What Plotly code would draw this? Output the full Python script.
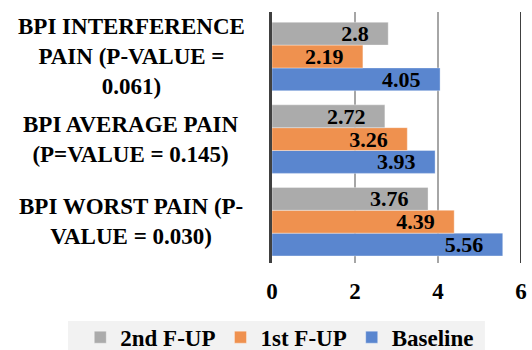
import plotly.graph_objects as go

categories = ["BPI WORST PAIN (P-<br>VALUE = 0.030)",
              "BPI AVERAGE PAIN<br>(P=VALUE = 0.145)",
              "BPI INTERFERENCE<br>PAIN (P-VALUE =<br>0.061)"]
baseline = [5.56, 3.93, 4.05]
first_fup = [4.39, 3.26, 2.19]
second_fup = [3.76, 2.72, 2.8]
x_ticks = [0, 2, 4, 6]

font_family = "Liberation Serif"

fig = go.Figure()
series = [("Baseline", baseline, "#5A86CF"),
          ("1st F-UP", first_fup, "#EF914F"),
          ("2nd F-UP", second_fup, "#ABABAB")]
for name, vals, col in series:
    fig.add_trace(go.Bar(
        y=categories, x=vals, name=name, orientation="h",
        marker=dict(color=col, line=dict(color="rgba(255,255,255,0.35)", width=1)),
        text=vals, texttemplate="%{x}\u00a0\u00a0\u00a0",
        textposition="inside", insidetextanchor="end", constraintext="none",
        textfont=dict(family=font_family, size=22, color="black", weight="bold"),
        cliponaxis=False,
    ))

for c in categories:
    fig.add_annotation(x=-0.566, xref="paper", y=c, yref="y",
                       text=c, showarrow=False,
                       xanchor="center", align="center",
                       font=dict(family=font_family, size=23, color="black", weight="bold"))

# legend background panel
fig.add_shape(type="rect", xref="paper", yref="paper",
              x0=-0.819, x1=0.855, y0=-0.40, y1=-0.231,
              fillcolor="#F2F2F2", line=dict(width=0), layer="below")

fig.update_layout(
    width=532, height=350,
    margin=dict(l=272, r=11, t=12, b=87, autoexpand=False),
    plot_bgcolor="white", paper_bgcolor="white",
    barmode="group", bargap=0.17, bargroupgap=0,
    legend=dict(orientation="h", x=-0.77, xanchor="left", y=-0.21, yanchor="top",
                traceorder="reversed", bgcolor="rgba(0,0,0,0)",
                font=dict(family=font_family, size=23, color="black", weight="bold"),
                itemwidth=30),
    font=dict(family=font_family),
)
fig.update_xaxes(range=[0, 6], tickvals=x_ticks,
                 showgrid=True, gridcolor="#A6A6A6", gridwidth=1.5,
                 tickfont=dict(family=font_family, size=23, color="black", weight="bold"),
                 ticklabelstandoff=12,
                 zeroline=False, showline=False, ticks="", ticklen=0)
fig.update_yaxes(showticklabels=False, showline=True, linecolor="#404040", linewidth=3,
                 ticks="", showgrid=False)
fig.add_shape(type="line", xref="x", yref="paper", x0=6, x1=6, y0=0, y1=1,
              line=dict(color="#404040", width=2))

fig.write_html("out.html", config={"displayModeBar": False},
               post_script="document.body.style.margin='0';")
